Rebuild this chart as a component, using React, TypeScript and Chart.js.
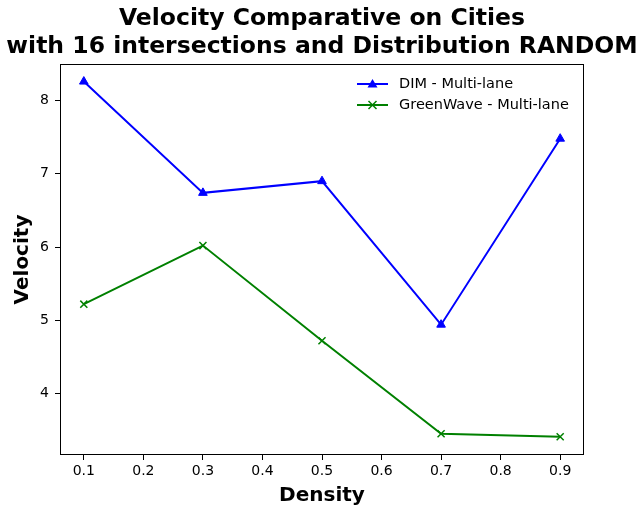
import React, { useEffect, useRef } from "react";
import { Chart, registerables } from "chart.js";

Chart.register(...registerables);

const densities = [0.1, 0.3, 0.5, 0.7, 0.9];
const dimVelocity = [8.26, 6.74, 6.9, 4.94, 7.48];
const greenWaveVelocity = [5.22, 6.02, 4.72, 3.45, 3.41];
const xTicks = [0.1, 0.2, 0.3, 0.4, 0.5, 0.6, 0.7, 0.8, 0.9];
const yTicks = [4, 5, 6, 7, 8];
const seriesNames = ["DIM - Multi-lane", "GreenWave - Multi-lane"];
const titleLines = [
  "Velocity Comparative on Cities",
  "with 16 intersections and Distribution RANDOM",
];

const FONT = "'DejaVu Sans', sans-serif";

const framePlugin = {
  id: "frame",
  afterDraw(chart: any) {
    const { ctx, chartArea } = chart;
    ctx.save();
    ctx.strokeStyle = "#000";
    ctx.lineWidth = 1;
    ctx.strokeRect(
      Math.round(chartArea.left) + 0.5,
      Math.round(chartArea.top) + 0.5,
      Math.round(chartArea.right - chartArea.left) - 1,
      Math.round(chartArea.bottom - chartArea.top) - 1
    );
    ctx.restore();
  },
};

const titlePlugin = {
  id: "mplTitle",
  afterDraw(chart: any) {
    const { ctx, chartArea } = chart;
    const cx = (chartArea.left + chartArea.right) / 2;
    ctx.save();
    ctx.fillStyle = "#000";
    ctx.font = `bold 23.5px ${FONT}`;
    ctx.textAlign = "center";
    ctx.textBaseline = "middle";
    titleLines.forEach((line, i) => {
      ctx.fillText(line, cx, 19 + i * 28);
    });
    ctx.restore();
  },
};

const legendPlugin = {
  id: "mplLegend",
  afterDraw(chart: any) {
    const { ctx, chartArea } = chart;
    const x0 = chartArea.right - 227;
    const y0 = chartArea.top + 20;
    const gap = 21;
    ctx.save();
    chart.data.datasets.forEach((ds: any, i: number) => {
      const y = y0 + i * gap;
      ctx.strokeStyle = ds.borderColor;
      ctx.lineWidth = 2;
      ctx.beginPath();
      ctx.moveTo(x0, y);
      ctx.lineTo(x0 + 31, y);
      ctx.stroke();
      const cx = x0 + 15.5;
      if (ds.pointStyle === "triangle") {
        ctx.fillStyle = ds.borderColor;
        ctx.beginPath();
        ctx.moveTo(cx, y - 5);
        ctx.lineTo(cx + 5, y + 3.5);
        ctx.lineTo(cx - 5, y + 3.5);
        ctx.closePath();
        ctx.fill();
      } else {
        ctx.lineWidth = 1.5;
        ctx.beginPath();
        ctx.moveTo(cx - 4, y - 4);
        ctx.lineTo(cx + 4, y + 4);
        ctx.moveTo(cx + 4, y - 4);
        ctx.lineTo(cx - 4, y + 4);
        ctx.stroke();
      }
      ctx.fillStyle = "#000";
      ctx.font = `14.5px ${FONT}`;
      ctx.textBaseline = "middle";
      ctx.textAlign = "left";
      ctx.fillText(ds.label, x0 + 42, y);
    });
    ctx.restore();
  },
};

export default function App() {
  const ref = useRef<HTMLCanvasElement | null>(null);

  useEffect(() => {
    const canvas = ref.current;
    if (!canvas) return;
    const chart = new Chart(canvas, {
      type: "line",
      data: {
        datasets: [
          {
            label: seriesNames[0],
            data: densities.map((d, i) => ({ x: d, y: dimVelocity[i] })),
            borderColor: "#0000ff",
            backgroundColor: "#0000ff",
            borderWidth: 2,
            pointStyle: "triangle",
            pointRadius: 5,
            pointBorderWidth: 1,
            tension: 0,
          },
          {
            label: seriesNames[1],
            data: densities.map((d, i) => ({ x: d, y: greenWaveVelocity[i] })),
            borderColor: "#008000",
            backgroundColor: "#008000",
            borderWidth: 2,
            pointStyle: "crossRot",
            pointRadius: 5,
            pointBorderWidth: 1.5,
            tension: 0,
          },
        ],
      },
      options: {
        responsive: false,
        animation: false,
        layout: { padding: { left: 0, right: 58, top: 64, bottom: 0 } },
        plugins: {
          legend: { display: false },
          tooltip: { enabled: false },
          title: { display: false },
        },
        scales: {
          x: {
            type: "linear",
            min: 0.06,
            max: 0.94,
            afterBuildTicks: (axis: any) => {
              axis.ticks = xTicks.map((v) => ({ value: v }));
            },
            afterFit: (axis: any) => {
              axis.height = 50;
            },
            grid: {
              drawOnChartArea: false,
              drawTicks: true,
              tickLength: 5,
              color: "#000",
            },
            border: { display: false },
            ticks: {
              color: "#000",
              font: { family: FONT, size: 14 },
              padding: 3,
              maxRotation: 0,
              autoSkip: false,
              callback: (v: any) => Number(v).toFixed(1),
            },
            title: {
              display: true,
              text: "Density",
              color: "#000",
              font: { family: FONT, size: 20, weight: "bold" },
              padding: { top: 0, bottom: -3 },
            },
          },
          y: {
            type: "linear",
            min: 3.16,
            max: 8.5,
            afterBuildTicks: (axis: any) => {
              axis.ticks = yTicks.map((v) => ({ value: v }));
            },
            afterFit: (axis: any) => {
              axis.width = 60;
            },
            grid: {
              drawOnChartArea: false,
              drawTicks: true,
              tickLength: 5,
              color: "#000",
            },
            border: { display: false },
            ticks: {
              color: "#000",
              font: { family: FONT, size: 14 },
              padding: 6,
              callback: (v: any) => String(v),
            },
            title: {
              display: true,
              text: "Velocity",
              color: "#000",
              font: { family: FONT, size: 20, weight: "bold" },
              padding: { top: 11, bottom: 0 },
            },
          },
        },
      },
      plugins: [framePlugin, legendPlugin, titlePlugin],
    } as any);
    return () => chart.destroy();
  }, []);

  return (
    <div style={{ position: "absolute", left: 0, top: 0, width: 642, height: 505, background: "#fff" }}>
      <canvas ref={ref} width={642} height={505} />
    </div>
  );
}
